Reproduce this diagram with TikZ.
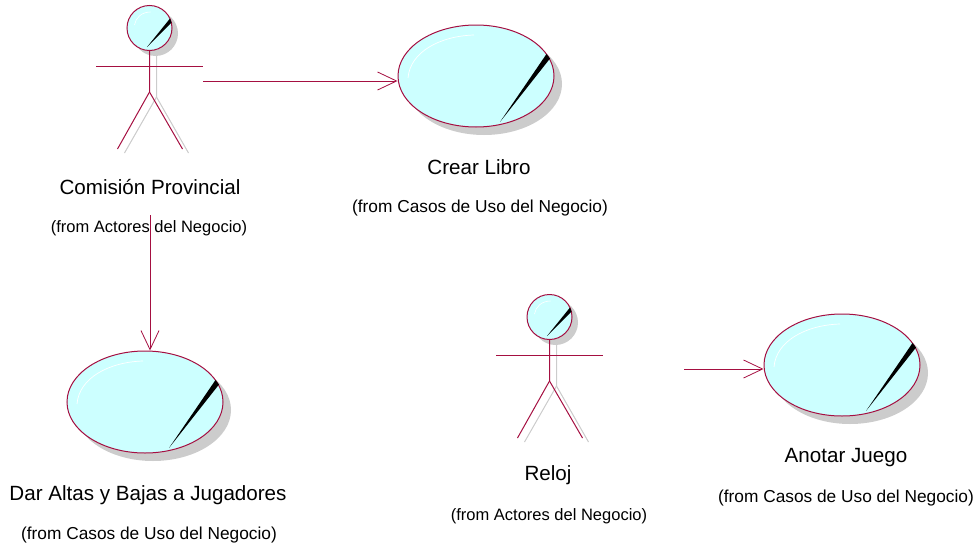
\documentclass[tikz,border=0pt]{standalone}
\usepackage{fontspec}
\setmainfont{Liberation Sans}
\usetikzlibrary{arrows.meta}
\usetikzlibrary{shapes.geometric}

\definecolor{umlline}{RGB}{165,15,65}
\definecolor{umlfill}{RGB}{204,255,255}
\definecolor{umlshadow}{RGB}{204,204,204}

\tikzset{
	usecase/.style={draw=umlline, fill=umlfill, ellipse, line width=1pt, minimum width=156pt, minimum height=102pt, inner sep=0pt},
	actorhead/.style={draw=umlline, fill=umlfill, circle, line width=1pt, minimum size=45pt, inner sep=0pt},
	actorline/.style={draw=umlline, line width=1pt},
	actorshade/.style={draw=umlshadow, line width=1pt},
	assoc/.style={draw=umlline, line width=0.8pt, -{Straight Barb[length=19pt,width=18pt,line width=0.8pt]}},
	bigtext/.style={font=\fontsize{20.6}{22}\selectfont, inner sep=0pt},
	smalltext/.style={font=\fontsize{16.5}{18}\selectfont, inner sep=0pt},
	casostext/.style={font=\fontsize{17.3}{19}\selectfont, inner sep=0pt},
}

\begin{document}
\begin{tikzpicture}[x=1pt,y=-1pt]
\useasboundingbox (0,0) rectangle (977,546);

% use cases
\foreach \ucname/\ucx/\ucy in {crear/476/76, altas/145/402, anotar/842/365}{
	\begin{scope}[shift={(\ucx,\ucy)}]
		\fill[umlshadow] (8,8) ellipse (78 and 51);
		\node[usecase] (\ucname) at (0,0) {};
		\fill[black] (24,46) -- (70.5,-22) -- (74,-17.5) -- cycle;
		\draw[white, line width=0.7pt] (-68,2) .. controls (-66,-24) and (-36,-40) .. (-2,-41);
	\end{scope}
}

% actors
\foreach \actname/\actx/\acty in {comision/149.5/28, reloj/549.5/317}{
	\begin{scope}[shift={(\actx,\acty)}]
		\fill[umlshadow] (6,5.5) circle (22.5);
		\draw[actorshade] (7,22) -- (7,69) -- (-25,125);
		\draw[actorshade] (7,69) -- (39,125);
		\draw[actorline] (-53.5,38) -- (53.5,38);
		\draw[actorline] (0,22) -- (0,64) -- (-32,121);
		\draw[actorline] (0,64) -- (33,121);
		\node[actorhead] (\actname) at (0,0) {};
		\fill[black] (-2.5,19) -- (20.5,-9.5) -- (22,-5.5) -- cycle;
		\draw[white, line width=0.6pt] (-15,-3) .. controls (-14,-10) and (-8,-16) .. (1,-16);
	\end{scope}
}

% labels
\node[bigtext] (comisionlabel) at (150,187) {Comisión Provincial};
\node[smalltext] (comisionfrom) at (149,228) {(from Actores del Negocio)};
\node[bigtext] (crearlabel) at (479,167) {Crear Libro};
\node[casostext] (crearfrom) at (480,208) {(from Casos de Uso del Negocio)};
\node[bigtext] (altaslabel) at (148,495) {Dar Altas y Bajas a Jugadores};
\node[casostext] (altasfrom) at (149,535) {(from Casos de Uso del Negocio)};
\node[bigtext] (relojlabel) at (548,475) {Reloj};
\node[smalltext] (relojfrom) at (549,516) {(from Actores del Negocio)};
\node[bigtext] (anotarlabel) at (846,458) {Anotar Juego};
\node[casostext] (anotarfrom) at (846,498) {(from Casos de Uso del Negocio)};

% connectors
\coordinate (comisionright) at (203,81);
\coordinate (comisiondown) at (150,215);
\coordinate (relojright) at (684,369);
\draw[assoc] (comisionright) -- (comisionright -| crear.west);
\draw[assoc] (comisiondown) -- (comisiondown |- altas.north);
\draw[assoc] (relojright) -- (relojright -| anotar.west);

\end{tikzpicture}
\end{document}
